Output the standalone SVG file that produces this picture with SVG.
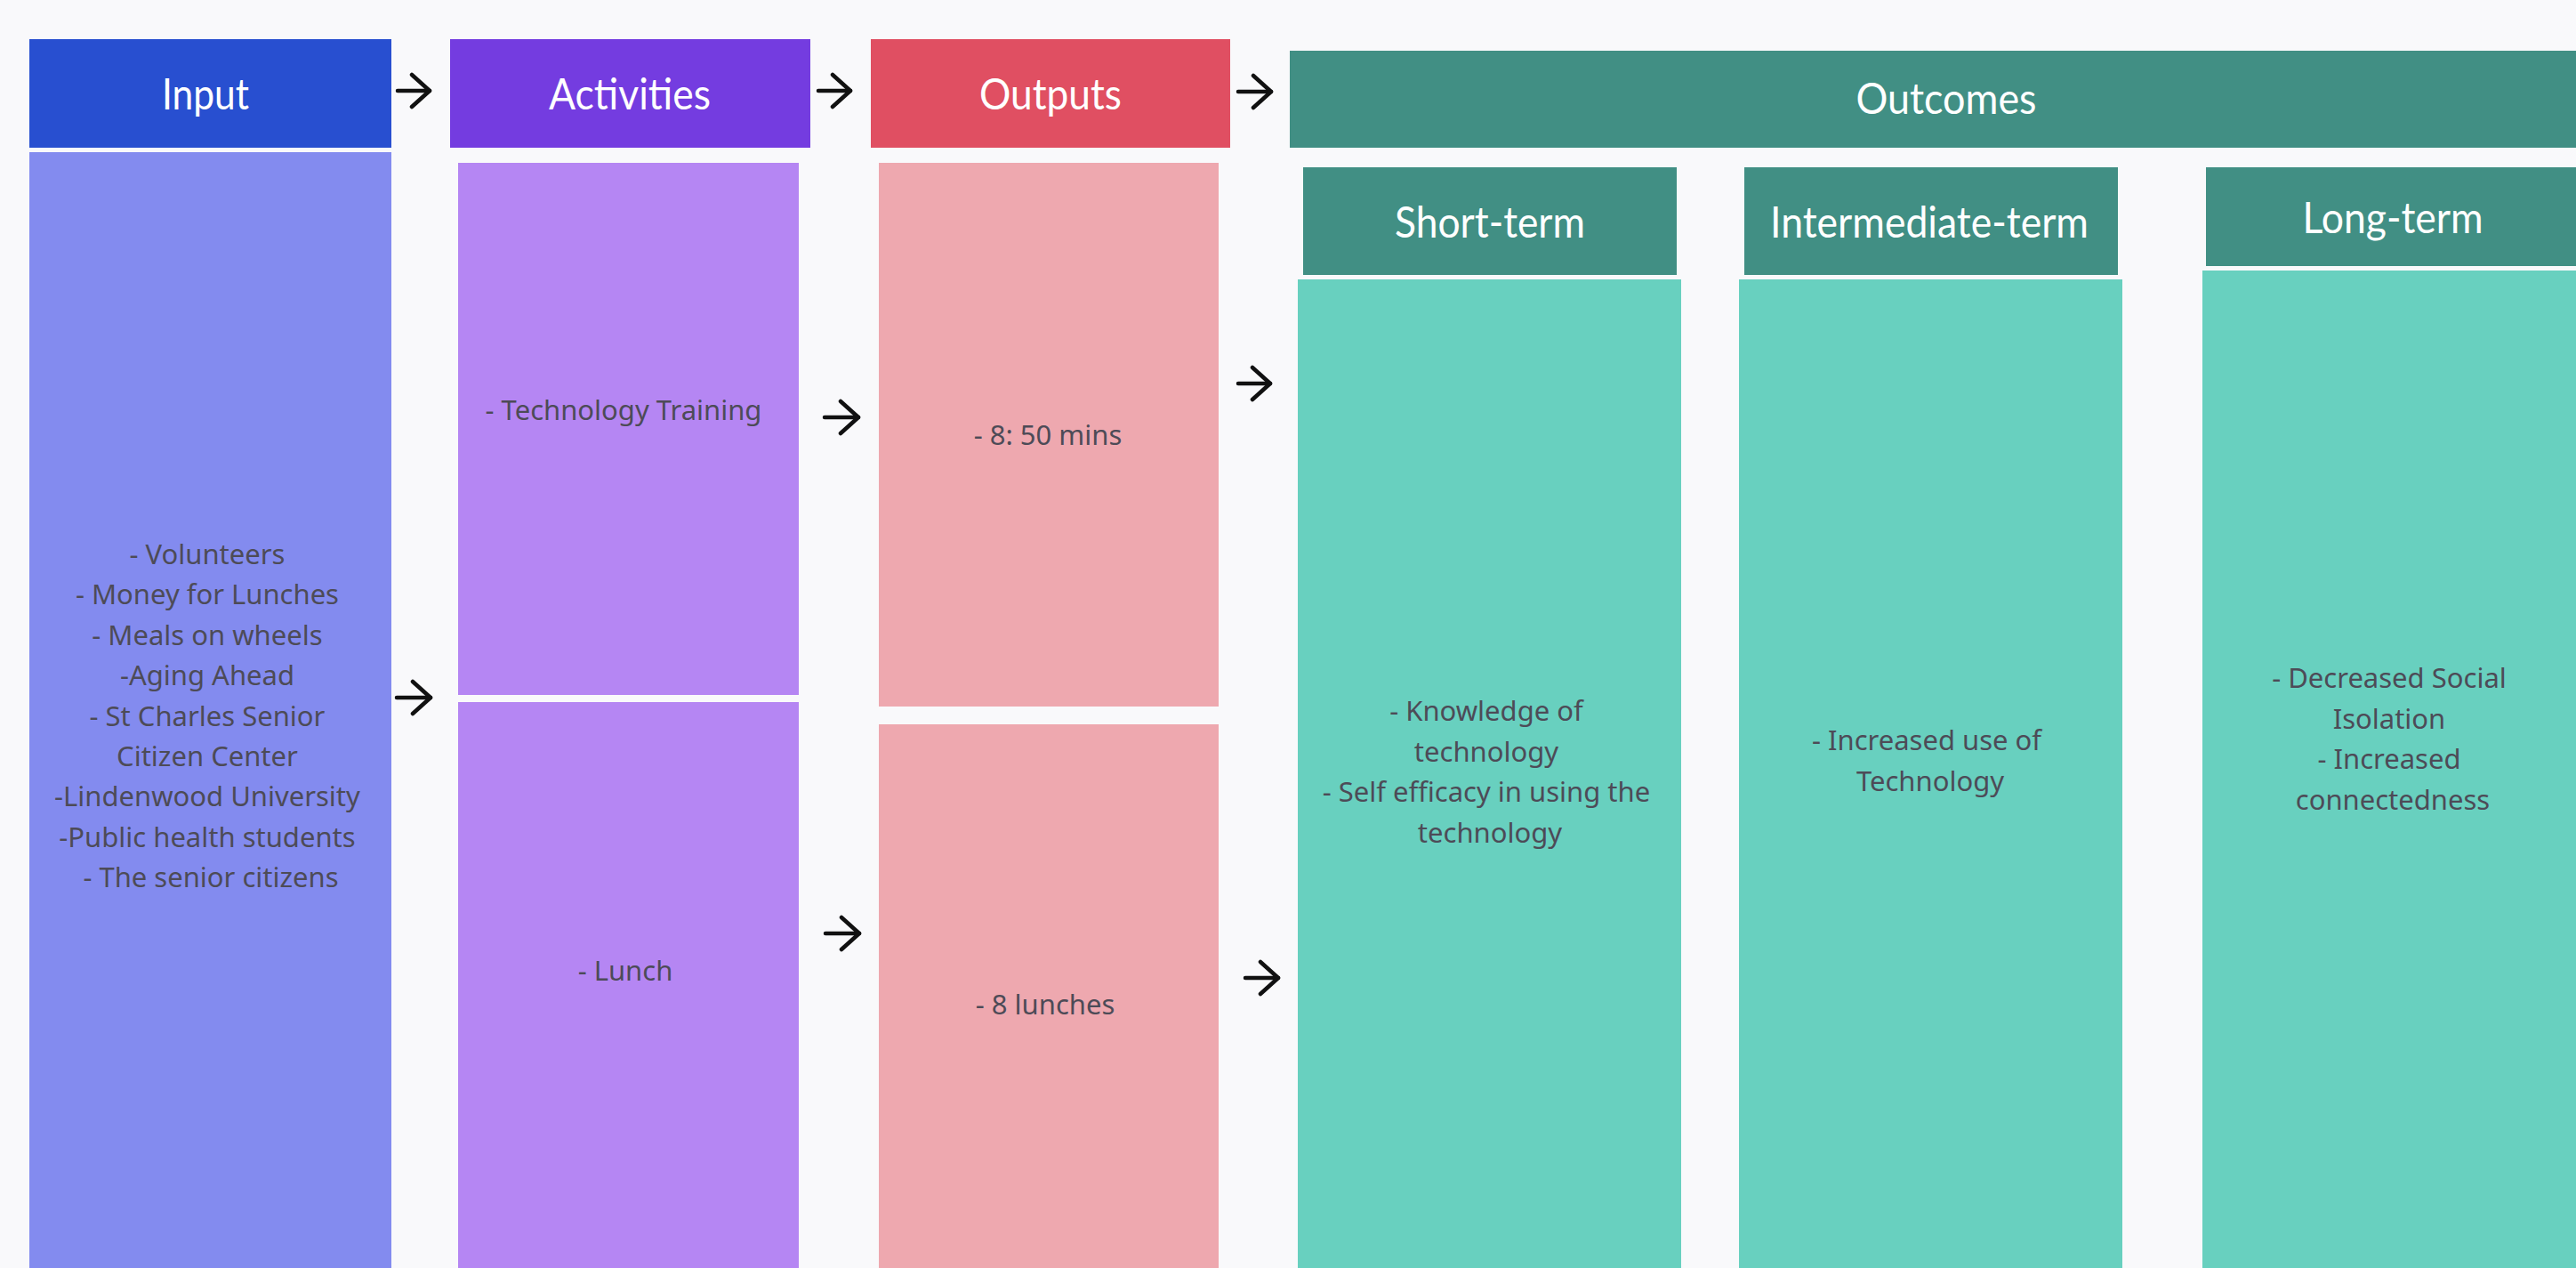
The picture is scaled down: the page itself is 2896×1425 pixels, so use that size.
<svg xmlns="http://www.w3.org/2000/svg" width="2896" height="1425" viewBox="0 0 2896 1425">
  <defs>
    <style>
      .hdr-text { font-family: Lato, "Open Sans", "Liberation Sans", sans-serif; font-size: 48px; fill: #ffffff; text-anchor: middle; }
      .body-text { font-family: "Noto Sans", "Open Sans", "Liberation Sans", sans-serif; font-size: 31px; fill: #4d4b57; text-anchor: middle; }
      .in-h { fill: #284fd0; }
      .in-b { fill: #838bef; }
      .act-h { fill: #743ce0; }
      .act-b { fill: #b586f3; }
      .out-h { fill: #e04f62; }
      .out-b { fill: #eea8af; }
      .oc-h { fill: #418f84; }
      .oc-b { fill: #68d0bf; }
      .conn { stroke: #111111; stroke-width: 4.5; stroke-linecap: round; fill: none; marker-end: url(#chevron); }
    </style>
    <marker id="chevron" viewBox="0 0 26 42" refX="23" refY="21" markerWidth="26" markerHeight="42" markerUnits="userSpaceOnUse" orient="auto">
      <path d="M3,3 L23,21 L3,39" fill="none" stroke="#111111" stroke-width="4.5" stroke-linecap="round" stroke-linejoin="round"/>
    </marker>
  </defs>

  <rect x="0" y="0" width="2896" height="1425" fill="#f9f9fb"/>

  <!-- Input column -->
  <g id="input-header">
    <rect class="in-h" x="33" y="44" width="407" height="122"/>
    <text class="hdr-text" x="231" y="123" textLength="98" lengthAdjust="spacingAndGlyphs">Input</text>
  </g>
  <g id="input-body">
    <rect class="in-b" x="33" y="171" width="407" height="1260"/>
    <text class="body-text">
      <tspan x="237" y="634">- Volunteers</tspan>
      <tspan x="237" y="679.4">- Money for Lunches</tspan>
      <tspan x="237" y="724.8">- Meals on wheels</tspan>
      <tspan x="237" y="770.2">-Aging Ahead</tspan>
      <tspan x="237" y="815.6">- St Charles Senior</tspan>
      <tspan x="237" y="861">Citizen Center</tspan>
      <tspan x="237" y="906.4">-Lindenwood University</tspan>
      <tspan x="237" y="951.8">-Public health students</tspan>
      <tspan x="237" y="997.2">- The senior citizens</tspan>
    </text>
  </g>

  <!-- Activities column -->
  <g id="activities-header">
    <rect class="act-h" x="506" y="44" width="405" height="122"/>
    <text class="hdr-text" x="708" y="123" textLength="182" lengthAdjust="spacingAndGlyphs">Activities</text>
  </g>
  <g id="activity-training">
    <rect class="act-b" x="515" y="183" width="383" height="598"/>
    <text class="body-text" x="701" y="472">- Technology Training</text>
  </g>
  <g id="activity-lunch">
    <rect class="act-b" x="515" y="789" width="383" height="640"/>
    <text class="body-text" x="703" y="1102">- Lunch</text>
  </g>

  <!-- Outputs column -->
  <g id="outputs-header">
    <rect class="out-h" x="979" y="44" width="404" height="122"/>
    <text class="hdr-text" x="1181" y="123" textLength="160" lengthAdjust="spacingAndGlyphs">Outputs</text>
  </g>
  <g id="output-sessions">
    <rect class="out-b" x="988" y="183" width="382" height="611"/>
    <text class="body-text" x="1178" y="500">- 8: 50 mins</text>
  </g>
  <g id="output-lunches">
    <rect class="out-b" x="988" y="814" width="382" height="620"/>
    <text class="body-text" x="1175" y="1140">- 8 lunches</text>
  </g>

  <!-- Outcomes -->
  <g id="outcomes-header">
    <rect class="oc-h" x="1450" y="57" width="1480" height="109"/>
    <text class="hdr-text" x="2188" y="128" textLength="203" lengthAdjust="spacingAndGlyphs">Outcomes</text>
  </g>
  <g id="short-term-header">
    <rect class="oc-h" x="1465" y="188" width="420" height="121"/>
    <text class="hdr-text" x="1675" y="267" textLength="214" lengthAdjust="spacingAndGlyphs">Short-term</text>
  </g>
  <g id="short-term-body">
    <rect class="oc-b" x="1459" y="314" width="431" height="1120"/>
    <text class="body-text">
      <tspan x="1675" y="810">- Knowledge of</tspan>
      <tspan x="1675" y="855.5">technology</tspan>
      <tspan x="1675" y="901">- Self efficacy in using the</tspan>
      <tspan x="1675" y="946.5">technology</tspan>
    </text>
  </g>
  <g id="intermediate-term-header">
    <rect class="oc-h" x="1961" y="188" width="420" height="121"/>
    <text class="hdr-text" x="2169" y="267" textLength="358" lengthAdjust="spacingAndGlyphs">Intermediate-term</text>
  </g>
  <g id="intermediate-term-body">
    <rect class="oc-b" x="1955" y="314" width="431" height="1120"/>
    <text class="body-text">
      <tspan x="2170" y="843">- Increased use of</tspan>
      <tspan x="2170" y="888.5">Technology</tspan>
    </text>
  </g>
  <g id="long-term-header">
    <rect class="oc-h" x="2480" y="188" width="430" height="111"/>
    <text class="hdr-text" x="2690" y="262" textLength="203" lengthAdjust="spacingAndGlyphs">Long-term</text>
  </g>
  <g id="long-term-body">
    <rect class="oc-b" x="2476" y="304" width="440" height="1130"/>
    <text class="body-text">
      <tspan x="2690" y="773">- Decreased Social</tspan>
      <tspan x="2690" y="818.5">Isolation</tspan>
      <tspan x="2690" y="864">- Increased</tspan>
      <tspan x="2690" y="909.5">connectedness</tspan>
    </text>
  </g>

  <!-- Connectors -->
  <g id="connectors">
    <line class="conn" x1="447" y1="102" x2="483" y2="102"/>
    <line class="conn" x1="920" y1="102" x2="956" y2="102"/>
    <line class="conn" x1="1392" y1="103" x2="1429" y2="103"/>
    <line class="conn" x1="446" y1="784" x2="484" y2="784"/>
    <line class="conn" x1="927" y1="469" x2="965" y2="469"/>
    <line class="conn" x1="928" y1="1049" x2="966" y2="1049"/>
    <line class="conn" x1="1392" y1="431" x2="1428" y2="431"/>
    <line class="conn" x1="1400" y1="1099" x2="1437" y2="1099"/>
  </g>
</svg>
